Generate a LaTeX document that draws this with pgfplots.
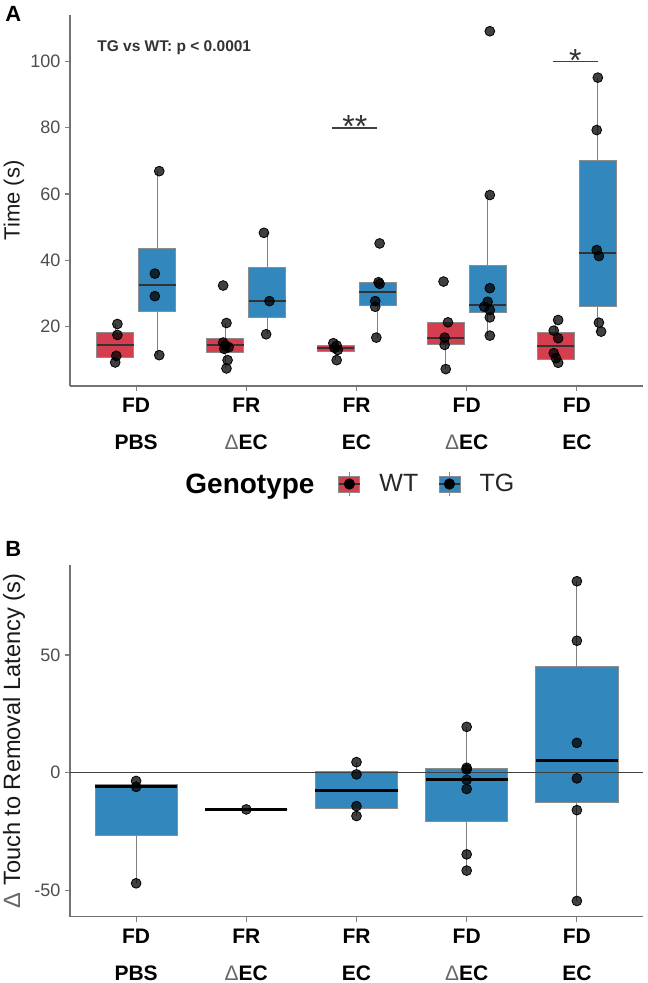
\documentclass[border=0pt]{standalone}
\usepackage{pgfplots}
\pgfplotsset{compat=1.18}
\usepgfplotslibrary{statistics}
\usepackage{fontspec}
\setmainfont{Liberation Sans}
\definecolor{wtred}{HTML}{D53E4F}
\definecolor{tgblue}{HTML}{3288BD}
\definecolor{ticktext}{HTML}{4D4D4D}
\newcommand{\dEC}{\textcolor{black!60}{\mdseries Δ}EC}
\pgfplotsset{
  common/.style={
    scale only axis, width=286.5pt,
    xmin=0.4, xmax=5.6,
    axis lines=left, axis line style={-, draw=black!55, line width=0.7pt},
    tick align=outside, major tick length=2.5pt,
    tick style={draw=black!50, line width=0.6pt},
    xtick={1,2,3,4,5},
    xticklabels={{FD\\PBS},{FR\\\dEC},{FR\\EC},{FD\\\dEC},{FD\\EC}},
    xticklabel style={font=\bfseries\fontsize{10.5}{18.5}\selectfont, align=center, text=black},
    yticklabel style={font=\fontsize{9}{10}\selectfont, text=ticktext, xshift=1.2pt},
    /pgf/number format/assume math mode=true,
    clip=false,
    boxplot/draw direction=y,
    boxplot/whisker extend=0,
    boxplot/every whisker/.style={draw=black!50, line width=0.5pt},
    boxplot/every box/.style={draw=black!45, line width=0.4pt},
  },
  pts/.style={only marks, mark=*, mark size=2.45pt,
    mark options={fill=black, draw=none, fill opacity=0.75}, forget plot},
  wtbox/.style={forget plot, fill=wtred, draw=black!45, line width=0.4pt,
    boxplot/every median/.style={draw=black!80, line width=1pt}},
  tgbox/.style={forget plot, fill=tgblue, draw=black!45, line width=0.4pt,
    boxplot/every median/.style={draw=black!80, line width=1pt}},
  bbox/.style={forget plot, fill=tgblue, draw=black!45, line width=0.4pt,
    boxplot/every median/.style={draw=black, line width=1.5pt}},
  keyimg/.style={legend image code/.code={
    \draw[black!45, line width=0.4pt] (5.25pt,-6pt) -- (5.25pt,6pt);
    \draw[black!45, line width=0.4pt, fill=#1] (0pt,-4pt) rectangle (10.5pt,4pt);
    \draw[black!80, line width=0.6pt] (0pt,0pt) -- (10.5pt,0pt);
    \fill[black] (5.25pt,0pt) circle (2.6pt);
  }},
}
\begin{document}
\begin{tikzpicture}
\path[use as bounding box] (0,0) rectangle (323.5pt,-491.5pt);
% ---------------- Panel A ----------------
\begin{axis}[common, height=185.5pt, at={(35pt,-193pt)}, anchor=south west,
  ymin=2.1, ymax=114, ytick={20,40,60,80,100},
  ylabel={Time (s)},
  ylabel style={at={(axis description cs:-0.0977,0.5)}, anchor=center,
    font=\fontsize{11}{13}\selectfont, text=black!90},
  legend columns=-1,
  legend style={at={(axis description cs:0.4682,-0.2642)}, anchor=west,
    draw=none, fill=none, inner sep=0pt, outer sep=0pt,
    nodes={inner sep=0pt, font=\fontsize{12.5}{14}\selectfont, text=black!85},
    /tikz/every odd column/.append style={column sep=9.5pt},
    /tikz/every even column/.append style={column sep=10pt}},
]
% WT boxes
\addplot[wtbox, boxplot prepared={draw position=0.81, box extend=0.336,
  lower whisker=9.2, lower quartile=10.7, median=14.35, upper quartile=18.3, upper whisker=20.8}] coordinates {};
\addplot[wtbox, boxplot prepared={draw position=1.81, box extend=0.336,
  lower whisker=7.4, lower quartile=12.2, median=14.5, upper quartile=16.5, upper whisker=21.1}] coordinates {};
\addplot[wtbox, boxplot prepared={draw position=2.81, box extend=0.336,
  lower whisker=9.9, lower quartile=12.5, median=13.5, upper quartile=14.3, upper whisker=15.0}] coordinates {};
\addplot[wtbox, boxplot prepared={draw position=3.81, box extend=0.336,
  lower whisker=7.2, lower quartile=14.5, median=16.7, upper quartile=21.3, upper whisker=21.3}] coordinates {};
\addplot[wtbox, boxplot prepared={draw position=4.81, box extend=0.336,
  lower whisker=9.1, lower quartile=10.2, median=14.1, upper quartile=18.2, upper whisker=22.0}] coordinates {};
% TG boxes
\addplot[tgbox, boxplot prepared={draw position=1.19, box extend=0.336,
  lower whisker=11.4, lower quartile=24.7, median=32.6, upper quartile=43.6, upper whisker=66.9}] coordinates {};
\addplot[tgbox, boxplot prepared={draw position=2.19, box extend=0.336,
  lower whisker=17.7, lower quartile=22.7, median=27.7, upper quartile=38.0, upper whisker=48.3}] coordinates {};
\addplot[tgbox, boxplot prepared={draw position=3.19, box extend=0.336,
  lower whisker=16.7, lower quartile=26.4, median=30.4, upper quartile=33.3, upper whisker=33.4}] coordinates {};
\addplot[tgbox, boxplot prepared={draw position=4.19, box extend=0.336,
  lower whisker=17.3, lower quartile=24.2, median=26.6, upper quartile=38.5, upper whisker=59.7}] coordinates {};
\addplot[tgbox, boxplot prepared={draw position=5.19, box extend=0.336,
  lower whisker=18.5, lower quartile=26.2, median=42.2, upper quartile=70.1, upper whisker=95.1}] coordinates {};
% points WT
\addplot[pts] coordinates {
 (0.83,20.8) (0.83,17.5) (0.82,11.2) (0.81,9.2)
 (1.79,32.4) (1.82,21.1) (1.79,15.2) (1.81,14.3) (1.84,13.8) (1.80,13.3) (1.83,9.9) (1.82,7.4)
 (2.79,15.0) (2.82,14.3) (2.80,13.6) (2.83,13.0) (2.82,9.9)
 (3.79,33.6) (3.83,21.3) (3.80,16.7) (3.80,14.5) (3.81,7.2)
 (4.83,22.0) (4.79,18.8) (4.83,16.5) (4.79,12.0) (4.81,10.5) (4.83,9.1)
};
% points TG
\addplot[pts] coordinates {
 (1.21,66.9) (1.17,36.0) (1.17,29.2) (1.21,11.4)
 (2.16,48.3) (2.21,27.7) (2.18,17.7)
 (3.21,45.1) (3.20,33.4) (3.21,32.9) (3.17,27.7) (3.17,26.0) (3.18,16.7)
 (4.21,109.1) (4.21,59.7) (4.21,31.6) (4.19,27.5) (4.16,26.0) (4.21,25.0) (4.21,22.8) (4.21,17.3)
 (5.19,95.1) (5.18,79.3) (5.18,43.1) (5.20,41.3) (5.20,21.2) (5.22,18.5)
};
% significance bars
\addplot[forget plot, black!75, line width=0.9pt] coordinates {(2.78,80) (3.19,80)};
\addplot[forget plot, black!75, line width=0.9pt] coordinates {(4.78,100) (5.19,100)};
\node[anchor=base, inner sep=0pt, font=\fontsize{16}{16}\selectfont, text=black!80] at (axis cs:2.985,77.0) {**};
\node[anchor=base, inner sep=0pt, font=\fontsize{16}{16}\selectfont, text=black!80] at (axis cs:4.985,97.1) {*};
\node[anchor=base, inner sep=0pt, font=\bfseries\fontsize{7.75}{9}\selectfont, text=black!80] at (axis cs:1.346,103.0) {TG vs WT: p < 0.0001};
% legend
\addlegendimage{keyimg=wtred}
\addlegendentry{WT}
\addlegendimage{keyimg=tgblue}
\addlegendentry{TG}
\end{axis}
% ---------------- Panel B ----------------
\begin{axis}[common, height=175.85pt, at={(35pt,-458.35pt)}, anchor=south west,
  ymin=-61.2, ymax=88.3, ytick={-50,0,50},
  ylabel={\textcolor{black!60}{Δ} Touch to Removal Latency (s)},
  ylabel style={at={(axis description cs:-0.0977,0.5)}, anchor=center,
    font=\fontsize{11.8}{13}\selectfont, text=black!90},
]
\addplot[bbox, boxplot prepared={draw position=1, box extend=0.745,
  lower whisker=-47.0, lower quartile=-26.5, median=-5.8, upper quartile=-4.75, upper whisker=-3.5}] coordinates {};
\addplot[bbox, boxplot prepared={draw position=2, box extend=0.745,
  lower whisker=-15.6, lower quartile=-15.6, median=-15.6, upper quartile=-15.6, upper whisker=-15.6}] coordinates {};
\addplot[bbox, boxplot prepared={draw position=3, box extend=0.745,
  lower whisker=-18.4, lower quartile=-15.25, median=-7.45, upper quartile=0.6, upper whisker=4.5}] coordinates {};
\addplot[bbox, boxplot prepared={draw position=4, box extend=0.745,
  lower whisker=-41.6, lower quartile=-20.8, median=-3.0, upper quartile=1.75, upper whisker=19.5}] coordinates {};
\addplot[bbox, boxplot prepared={draw position=5, box extend=0.745,
  lower whisker=-54.5, lower quartile=-12.5, median=5.15, upper quartile=45.25, upper whisker=81.4}] coordinates {};
\addplot[forget plot, black!75, line width=0.7pt] coordinates {(0.4,0) (5.6,0)};
\addplot[pts] coordinates {
 (1,-3.5) (1,-6.0) (1,-47.0)
 (2,-15.6)
 (3,4.5) (3,-0.7) (3,-14.2) (3,-18.4)
 (4,19.5) (4,2.1) (4,1.4) (4,-3.0) (4,-6.9) (4,-34.7) (4,-41.6)
 (5,81.4) (5,56.1) (5,12.7) (5,-2.4) (5,-15.9) (5,-54.5)
};
\end{axis}
% titles / labels
\node[anchor=base west, inner sep=0pt, font=\bfseries\fontsize{11}{13}\selectfont] at (2.5pt,-10.85pt) {A};
\node[anchor=base west, inner sep=0pt, font=\bfseries\fontsize{11}{13}\selectfont] at (2.5pt,-278pt) {B};
\node[anchor=base west, inner sep=0pt, font=\bfseries\fontsize{14}{16}\selectfont] at (92.5pt,-246.65pt) {Genotype};
\end{tikzpicture}
\end{document}
